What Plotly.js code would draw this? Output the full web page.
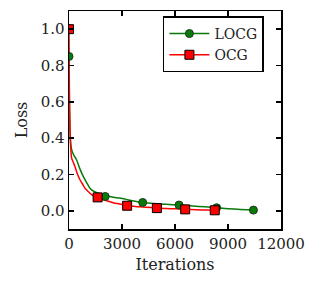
<!DOCTYPE html>
<html>
<head>
<meta charset="utf-8">
<script src="https://cdn.plot.ly/plotly-3.0.1.min.js"></script>
<style>html,body{margin:0;padding:0;background:#fff;}#chart{width:317px;height:291px;}</style>
</head>
<body>
<div id="chart"></div>
<script>
// LOCG dense curve
var locgIters = [0, 20, 50, 100, 150, 250, 434, 600, 805, 1000, 1183, 1450, 1747, 2050, 2310, 2700, 3000, 3250, 3600, 4170, 4800, 5500, 6230, 7000, 7700, 8355, 9000, 9700, 10440];
var locgLoss  = [0.85, 0.62, 0.46, 0.37, 0.336, 0.31, 0.28, 0.235, 0.19, 0.155, 0.125, 0.105, 0.094, 0.085, 0.079, 0.072, 0.068, 0.063, 0.055, 0.046, 0.04, 0.036, 0.032, 0.027, 0.022, 0.017, 0.012, 0.008, 0.004];
// LOCG markers
var locgMarkIters = [0, 2050, 4170, 6230, 8355, 10440];
var locgMarkLoss  = [0.85, 0.079, 0.046, 0.032, 0.017, 0.004];

// OCG dense curve
var ocgIters = [0, 20, 50, 100, 150, 250, 338, 450, 620, 800, 900, 1100, 1277, 1450, 1620, 2000, 2500, 3000, 3290, 4000, 4975, 5500, 6000, 6575, 7200, 7800, 8250];
var ocgLoss  = [1.0, 0.68, 0.48, 0.34, 0.29, 0.265, 0.244, 0.21, 0.171, 0.142, 0.125, 0.105, 0.089, 0.079, 0.074, 0.06, 0.045, 0.035, 0.028, 0.022, 0.015, 0.013, 0.011, 0.008, 0.006, 0.004, 0.003];
// OCG markers
var ocgMarkIters = [0, 1620, 3290, 4975, 6575, 8250];
var ocgMarkLoss  = [1.0, 0.074, 0.028, 0.015, 0.008, 0.003];

var seriesNames = ['LOCG', 'OCG'];
var xTicks = [0, 3000, 6000, 9000, 12000];
var yTicks = [0.0, 0.2, 0.4, 0.6, 0.8, 1.0];

var green = '#0a7a0a';
var red = '#ff0000';
var font = 'DejaVu Serif, Liberation Serif, serif';

var greenMarker = {symbol: 'circle', size: 8, color: green, line: {color: '#1a3a1a', width: 1}};
var redMarker = {symbol: 'square', size: 9, color: red, line: {color: '#000', width: 1}};

var traces = [
  {x: locgIters, y: locgLoss, mode: 'lines', line: {color: green, width: 1.5, shape: 'spline', smoothing: 0.6}, showlegend: false, hoverinfo: 'skip'},
  {x: ocgIters, y: ocgLoss, mode: 'lines', line: {color: red, width: 1.5, shape: 'spline', smoothing: 0.6}, showlegend: false, hoverinfo: 'skip'},
  {x: locgMarkIters, y: locgMarkLoss, mode: 'markers', marker: greenMarker, showlegend: false},
  {x: ocgMarkIters, y: ocgMarkLoss, mode: 'markers', marker: redMarker, showlegend: false},
  {x: [null], y: [null], name: seriesNames[0], mode: 'lines+markers', line: {color: green, width: 1.5}, marker: greenMarker},
  {x: [null], y: [null], name: seriesNames[1], mode: 'lines+markers', line: {color: red, width: 1.5}, marker: redMarker}
];

var layout = {
  width: 317, height: 291,
  margin: {l: 69, r: 36, t: 11, b: 62},
  paper_bgcolor: '#fff', plot_bgcolor: '#fff',
  font: {family: font, size: 15, color: '#000'},
  showlegend: true,
  legend: {
    x: 0.443, y: 0.975, xanchor: 'left', yanchor: 'top',
    bgcolor: '#fff', bordercolor: '#000', borderwidth: 1.5,
    font: {family: font, size: 14, color: '#222'},
    itemwidth: 40, tracegroupgap: 0
  },
  xaxis: {
    range: [0, 12000], tickvals: xTicks, ticktext: xTicks.map(String),
    ticks: 'inside', ticklen: 5, tickwidth: 1.5, tickcolor: '#000',
    showline: true, linecolor: '#000', linewidth: 1.5, mirror: 'ticks',
    showgrid: false, zeroline: false,
    tickfont: {family: font, size: 15, color: '#222'},
    title: {text: 'Iterations', font: {family: font, size: 16, color: '#222'}, standoff: 7}
  },
  yaxis: {
    range: [-0.1, 1.1], tickvals: yTicks, ticktext: yTicks.map(function(v){return v.toFixed(1);}),
    ticks: 'inside', ticklen: 5, tickwidth: 1.5, tickcolor: '#000',
    showline: true, linecolor: '#000', linewidth: 1.5, mirror: 'ticks',
    showgrid: false, zeroline: false,
    tickfont: {family: font, size: 15, color: '#222'},
    title: {text: 'Loss', font: {family: font, size: 16, color: '#222'}, standoff: 9}
  }
};

Plotly.newPlot('chart', traces, layout, {staticPlot: true, displayModeBar: false});
</script>
</body>
</html>
